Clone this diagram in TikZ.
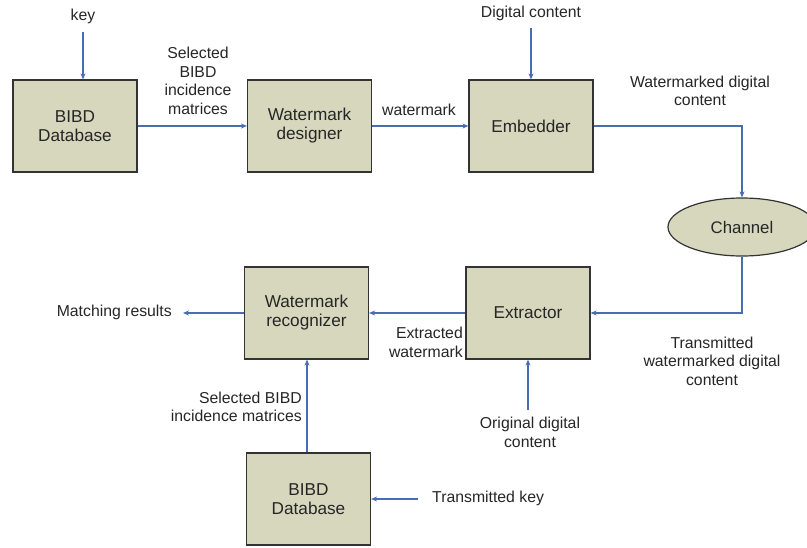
\documentclass[tikz,border=0pt]{standalone}
\usepackage{fontspec}
\setmainfont{Liberation Sans}
\usetikzlibrary{arrows.meta,shapes.geometric}
\definecolor{boxfill}{HTML}{D7D7BD}
\definecolor{linkblue}{HTML}{4A6CB3}
\definecolor{boxline}{HTML}{333333}
\begin{document}
\begin{tikzpicture}[x=1pt,y=-1pt,
  font=\fontsize{15.8}{18.6}\selectfont,
  blk/.style={draw=boxline,line width=1.2pt,fill=boxfill,minimum width=124pt,minimum height=92pt,align=center,inner sep=0pt,text=black!85,font=\fontsize{17.2}{19}\selectfont},
  lbl/.style={align=center,inner sep=0pt,text=black!85},
  link/.style={draw=linkblue,line width=1.1pt,-{Stealth[length=6pt,width=5pt]}}]
\clip (0,0) rectangle (807,547);
\useasboundingbox (0,0) rectangle (807,547);
% blocks
\node[blk] (db1) at (75,126) {BIBD\\Database};
\node[blk] (des) at (309.5,126) {Watermark\\designer};
\node[blk] (emb) at (531,126) {Embedder};
\node[draw=boxline,line width=1.2pt,fill=boxfill,ellipse,minimum width=148pt,minimum height=58pt,inner sep=0pt,text=black!85,font=\fontsize{16.8}{19}\selectfont] (ch) at (742,227) {Channel};
\node[blk] (ext) at (528,313) {Extractor};
\node[blk] (rec) at (306.5,313) {Watermark\\recognizer};
\node[blk] (db2) at (308.5,499) {BIBD\\Database};
% labels
\node[lbl,anchor=south] (key) at (83,24) {key};
\node[lbl] (selA) at (198,81) {Selected\\BIBD\\incidence\\matrices};
\node[lbl] (wm) at (419,110) {watermark};
\node[lbl,anchor=south] (dc) at (531,21) {Digital content};
\node[lbl] (wdc) at (700,91) {Watermarked digital\\content};
\node[lbl] (tw) at (712,361) {Transmitted\\watermarked digital\\content};
\node[lbl,align=right,anchor=north east] (exw) at (463,327) {Extracted\\watermark};
\node[lbl,anchor=east] (mr) at (172,312) {Matching results};
\node[lbl,align=right,anchor=east] (selB) at (302,407) {Selected BIBD\\incidence matrices};
\node[lbl,anchor=north] (orig) at (530,417) {Original digital\\content};
\node[lbl,anchor=west] (tk) at (432,498) {Transmitted key};
% coordinates
\coordinate (keyend) at (83,32);
\coordinate (dcend) at (531,28);
\coordinate (mrend) at (183,313);
\coordinate (tkstart) at (418,499);
\coordinate (origstart) at (528,410);
% connectors
\draw[link] (keyend) -- (keyend |- db1.north);
\draw[link] (db1) -- (des);
\draw[link] (des) -- (emb);
\draw[link] (dcend) -- (emb.north);
\draw[link] (emb.east) -| (ch.north);
\draw[link] (ch.south) |- (ext.east);
\draw[link] (ext.west) -- (rec.east);
\draw[link] (rec.west) -- (mrend);
\draw[link] (db2.north -| 307,0) -- (307,0 |- rec.south);
\draw[link] (tkstart) -- (tkstart -| db2.east);
\draw[link] (origstart) -- (origstart |- ext.south);
\end{tikzpicture}
\end{document}
